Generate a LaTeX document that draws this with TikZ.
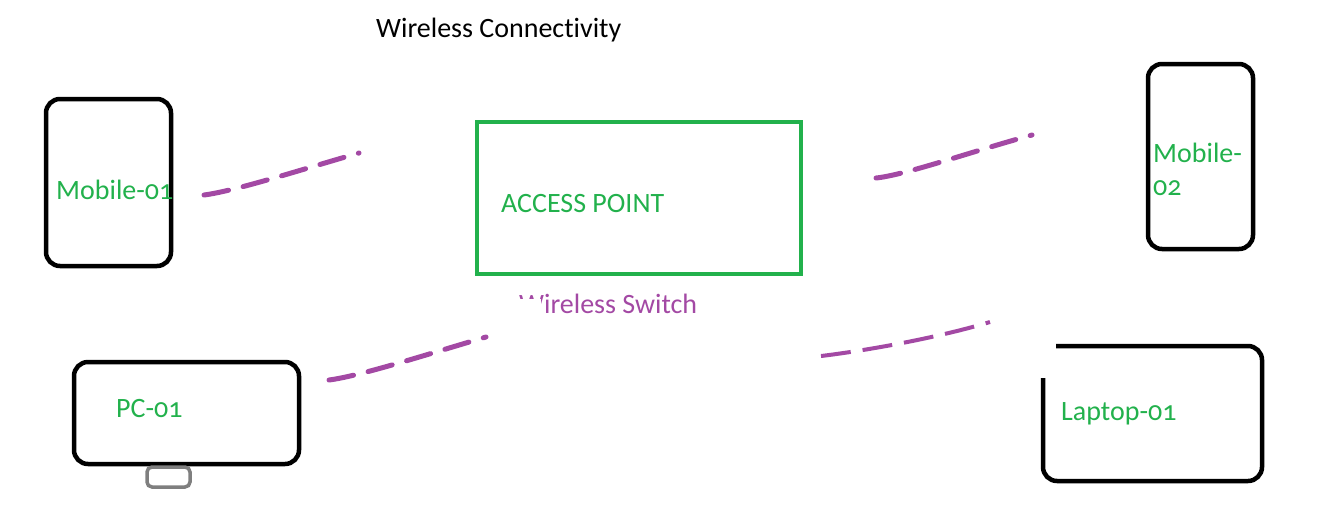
\documentclass[tikz,border=0pt]{standalone}
\usepackage{fontspec}
\setmainfont{Carlito}[Numbers=OldStyle,Ligatures=NoCommon]
\definecolor{apgreen}{RGB}{34,177,76}
\definecolor{linkpurple}{RGB}{163,73,164}
\definecolor{standgray}{RGB}{127,127,127}
\begin{document}
\begin{tikzpicture}[x=1pt,y=-1pt,
    devbox/.style={draw,line width=4.5pt,rounded corners=14pt,inner sep=0pt},
    lbl/.style={text=apgreen,font=\fontsize{28}{33}\selectfont,anchor=west,inner sep=0pt,align=left},
    link/.style={linkpurple,line width=5pt,line cap=round,dash pattern=on 25pt off 15pt}]
        \useasboundingbox (0,0) rectangle (1332,531);
        \node[font=\fontsize{28}{33}\selectfont,anchor=west,inner sep=0pt] (title) at (376,30) {Wireless Connectivity};
        \node[devbox,minimum width=125pt,minimum height=167pt] (mob1) at (108.5,182.5) {};
        \node[devbox,minimum width=105pt,minimum height=185pt] (mob2) at (1200.5,156.5) {};
        \node[draw=apgreen,line width=4pt,inner sep=0pt,minimum width=324pt,minimum height=152pt] (ap) at (639,198) {};
        \node[devbox,minimum width=225pt,minimum height=102pt] (pc) at (186.5,413) {};
        \node[draw=standgray,line width=3.5pt,rounded corners=5pt,inner sep=0pt,minimum width=43pt,minimum height=20pt] (stand) at (168.5,477) {};
        \draw[line width=4.5pt,rounded corners=14pt] (1056,346) -- (1262,346) -- (1262,481) -- (1043,481) -- (1043,378);
        \node[lbl] (mob1_l) at (56,190) {Mobile-01};
        \node[lbl] (mob2_l) at (1153,169) {Mobile-\\02};
        \node[lbl] (ap_l) at (501,204) {ACCESS POINT};
        \node[lbl] (pc_l) at (116,409) {PC-01};
        \node[lbl] (lap_l) at (1061,414) {Laptop-01};
        \node[lbl,text=linkpurple] (sw_l) at (519,304) {Wireless Switch};
        \fill[white] (515,299) rectangle (541,320);
        \coordinate (l1a) at (204,195);
        \coordinate (l1b) at (359,153);
        \coordinate (l2a) at (876,178);
        \coordinate (l2b) at (1032,135);
        \coordinate (l3a) at (329,380);
        \coordinate (l3b) at (486,337);
        \coordinate (l4a) at (821,356);
        \coordinate (l4b) at (990,322);
        \draw[link] (l1a) .. controls (235,191) and (300,170) .. (l1b);
        \draw[link] (l2a) .. controls (905,175) and (970,152) .. (l2b);
        \draw[link] (l3a) .. controls (360,376) and (425,355) .. (l3b);
        \draw[link,line width=4pt,line cap=butt,dash pattern=on 30pt off 12pt] (l4a) .. controls (855,352) and (930,340) .. (l4b);
      \end{tikzpicture}
\end{document}
